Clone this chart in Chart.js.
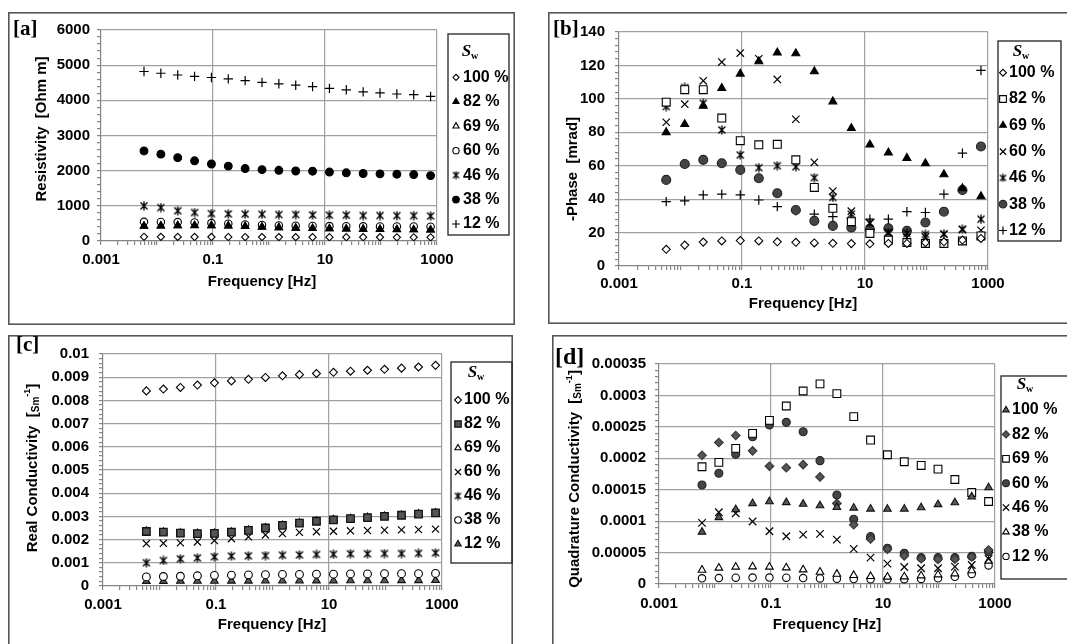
<!DOCTYPE html>
<html>
<head>
<meta charset="utf-8">
<title>Spectral induced polarization vs water saturation</title>
<script src="https://cdn.jsdelivr.net/npm/chart.js@4.4.1/dist/chart.umd.min.js"></script>
<style>
  html, body { margin: 0; padding: 0; background: #fff; width: 1067px; height: 644px; overflow: hidden; }
  canvas { position: absolute; }
</style>
</head>
<body>
<canvas id="panelA"></canvas>
<canvas id="panelB"></canvas>
<canvas id="panelC"></canvas>
<canvas id="panelD"></canvas>
<script>
// ---- measurement frequencies [Hz] and saturation levels ----
const freq = [0.005859375, 0.01171875, 0.0234375, 0.046875, 0.09375, 0.1875, 0.375, 0.75,
              1.5, 3, 6, 12, 24, 48, 96, 192, 384, 768];
const satLabels = ['100 %', '82 %', '69 %', '60 %', '46 %', '38 %', '12 %'];

// ---- axis tick labels ----
const freqTicks  = [0.001, 0.1, 10, 1000];
const resTicks   = [0, 1000, 2000, 3000, 4000, 5000, 6000];
const phaseTicks = [0, 20, 40, 60, 80, 100, 120, 140];
const realTicks  = [0, 0.001, 0.002, 0.003, 0.004, 0.005, 0.006, 0.007, 0.008, 0.009, 0.01];
const quadTicks  = [0, 0.00005, 0.0001, 0.00015, 0.0002, 0.00025, 0.0003, 0.00035];

// ---- [a] resistivity [Ohm m] ----
const res100 = [119, 118, 117, 116, 114, 113, 112, 111, 111, 110, 109, 109, 108, 108, 107, 106, 106, 105];
const res82  = [426, 431, 439, 442, 441, 431, 417, 400, 383, 369, 358, 351, 345, 339, 333, 328, 323, 317];
const res69  = [422, 429, 437, 441, 439, 429, 415, 398, 382, 368, 357, 350, 344, 338, 332, 327, 322, 316];
const res60  = [546, 543, 538, 526, 510, 490, 472, 455, 442, 433, 427, 424, 420, 418, 415, 413, 412, 408];
const res46  = [1000, 950, 860, 810, 780, 770, 765, 760, 750, 750, 740, 735, 735, 725, 725, 720, 720, 710];
const res38  = [2560, 2470, 2370, 2280, 2190, 2130, 2060, 2030, 2010, 1990, 1985, 1960, 1940, 1920, 1910, 1900, 1890, 1860];
const res12  = [4820, 4770, 4720, 4680, 4650, 4610, 4560, 4510, 4470, 4430, 4390, 4340, 4300, 4240, 4210, 4180, 4160, 4110];

// ---- [b] -phase [mrad] ----
const ph100 = [10, 12.5, 14.3, 15, 15.2, 15, 14.5, 14.2, 13.8, 13.6, 13.4, 13.3, 13.5, 13.5, 14, 14.5, 15.5, 16.5];
const ph82  = [98, 105.5, 105.5, 88.5, 75, 72.5, 72.8, 63.5, 47, 34.5, 26.5, 19.5, 15.5, 14, 13.5, 13.5, 15, 18];
const ph69  = [80, 84.8, 95.8, 106.4, 115, 122.4, 127.6, 127.2, 116.4, 98.4, 82.4, 72.6, 67.8, 64.6, 61.4, 54.8, 46.4, 41.6];
const ph60  = [86, 96.8, 110.8, 122, 127.4, 124, 111.6, 87.8, 62, 44.8, 32.8, 25.6, 20, 17, 17.4, 19, 21.8, 21.4];
const ph46  = [95.4, 106.8, 97.4, 81.4, 66.4, 58.8, 60, 59.4, 52.8, 41, 31, 25.8, 20, 19.5, 18.9, 19.2, 22, 28];
const ph38  = [51.5, 61, 63.5, 61.5, 57.5, 52.5, 43.5, 33.5, 27, 24, 23, 22, 22.5, 21, 26, 32.5, 45.5, 71.5];
const ph12  = [38.5, 39, 42.5, 43, 42.5, 39.5, 35.5, 33, 31, 29.5, 28.5, 28, 28, 32.5, 32, 43, 67.5, 117];

// ---- [c] real conductivity [S/m] ----
const re100 = [0.00841, 0.00849, 0.00856, 0.00866, 0.00876, 0.00884, 0.00891, 0.00899, 0.00906, 0.00911, 0.00916, 0.00921, 0.00926, 0.0093, 0.00934, 0.00939, 0.00944, 0.00951];
const re82  = [0.00235, 0.00232, 0.00228, 0.00226, 0.00227, 0.00232, 0.0024, 0.0025, 0.00261, 0.00271, 0.00279, 0.00285, 0.0029, 0.00295, 0.003, 0.00305, 0.0031, 0.00315];
const re69  = [0.00237, 0.00233, 0.00229, 0.00227, 0.00228, 0.00233, 0.00241, 0.00251, 0.00262, 0.00272, 0.0028, 0.00286, 0.00291, 0.00296, 0.00301, 0.00306, 0.00311, 0.00316];
const re60  = [0.00183, 0.00184, 0.00186, 0.0019, 0.00196, 0.00204, 0.00212, 0.0022, 0.00226, 0.00231, 0.00234, 0.00236, 0.00238, 0.00239, 0.00241, 0.00242, 0.00243, 0.00245];
const re46  = [0.001, 0.0011, 0.00117, 0.00121, 0.00126, 0.00129, 0.0013, 0.00131, 0.00133, 0.00134, 0.00136, 0.00137, 0.00139, 0.00139, 0.0014, 0.0014, 0.00141, 0.00143];
const re38  = [0.00039, 0.00041, 0.00042, 0.00044, 0.00046, 0.00047, 0.00048, 0.00049, 0.0005, 0.0005, 0.00051, 0.00051, 0.00052, 0.00052, 0.00053, 0.00053, 0.00053, 0.00054];
const re12  = [0.000207, 0.00021, 0.000212, 0.000214, 0.000215, 0.000217, 0.000219, 0.000222, 0.000224, 0.000226, 0.000228, 0.00023, 0.000233, 0.000236, 0.000237, 0.000239, 0.00024, 0.000243];

// ---- [d] quadrature conductivity [S/m] ----
const q100 = [0.0000828, 0.0001059, 0.0001186, 0.0001282, 0.0001311, 0.0001298, 0.0001272, 0.0001248, 0.0001221, 0.0001211, 0.0001195, 0.0001192, 0.0001195, 0.0001216, 0.0001266, 0.0001295, 0.0001388, 0.0001534];
const q82  = [0.0002048, 0.0002251, 0.0002362, 0.0002118, 0.0001874, 0.000185, 0.0001898, 0.0001704, 0.0001282, 0.0000942, 0.0000716, 0.0000555, 0.0000448, 0.0000401, 0.000039, 0.0000395, 0.000043, 0.0000541];
const q69  = [0.0001865, 0.0001934, 0.0002157, 0.0002396, 0.0002604, 0.0002832, 0.0003071, 0.0003183, 0.0003029, 0.0002662, 0.000229, 0.0002056, 0.0001945, 0.0001886, 0.0001828, 0.0001663, 0.0001456, 0.0001312];
const q60  = [0.0001575, 0.0001761, 0.0002063, 0.0002343, 0.0002529, 0.0002572, 0.0002423, 0.0001962, 0.0001416, 0.0001029, 0.0000753, 0.0000568, 0.0000488, 0.0000419, 0.0000419, 0.0000419, 0.000044, 0.0000514];
const q46  = [0.0000972, 0.0001142, 0.0001126, 0.0000994, 0.0000839, 0.000076, 0.0000786, 0.0000797, 0.0000707, 0.0000558, 0.000042, 0.0000324, 0.0000271, 0.000025, 0.000025, 0.0000276, 0.0000303, 0.0000399];
const q38  = [0.0000223, 0.0000255, 0.0000271, 0.0000276, 0.0000271, 0.000026, 0.0000228, 0.0000191, 0.0000159, 0.0000138, 0.0000122, 0.0000112, 0.0000117, 0.0000133, 0.0000149, 0.0000165, 0.0000213, 0.0000367];
const q12  = [0.000009, 0.0000095, 0.00001, 0.0000102, 0.0000102, 0.00001, 0.0000095, 0.0000088, 0.0000082, 0.0000078, 0.0000075, 0.0000074, 0.0000076, 0.000008, 0.000009, 0.0000115, 0.000016, 0.0000295];

// ---------------------------------------------------------------------
const SANS  = '"Liberation Sans", Arial, Helvetica, sans-serif';
const SERIF = '"Liberation Serif", "Times New Roman", serif';
Chart.defaults.font.family = SANS;
Chart.defaults.color = '#000';

const GRID = '#a0a0a0';
const AXIS = '#858585';

// six-armed asterisk marker (x plus vertical bar)
function makeAsterisk(s, lw) {
  const c = document.createElement('canvas');
  c.width = s; c.height = s;
  const g = c.getContext('2d');
  g.strokeStyle = '#000';
  g.lineWidth = lw;
  g.beginPath();
  g.moveTo(1.5, 1.5); g.lineTo(s - 1.5, s - 1.5);
  g.moveTo(s - 1.5, 1.5); g.lineTo(1.5, s - 1.5);
  g.moveTo(s / 2, 0.5); g.lineTo(s / 2, s - 0.5);
  g.stroke();
  return c;
}
const ASTERISK = makeAsterisk(10, 1.4);
const ASTERISK_KEY = makeAsterisk(9, 1.3);

// marker presets
function mk(style, r, fill, stroke, bw, keyStyle) {
  return { style, r, fill, stroke, bw: bw === undefined ? 1.1 : bw, keyStyle: keyStyle || style };
}
const DIAMOND_OPEN = (r) => mk('rectRot', r, '#fff', '#000');
const DIAMOND_GRAY = (r) => mk('rectRot', r, '#555', '#333');
const TRI_BLACK    = (r) => mk('triangle', r, '#000', '#000');
const TRI_OPEN     = (r) => mk('triangle', r, '#fff', '#000');
const TRI_GRAY     = (r) => mk('triangle', r, '#595959', '#111');
const CIRC_OPEN    = (r) => mk('circle', r, '#fff', '#000');
const CIRC_BLACK   = (r) => mk('circle', r, '#000', '#000');
const CIRC_GRAY    = (r) => mk('circle', r, '#454545', '#222');
const SQ_OPEN      = (r) => mk('rect', r, '#fff', '#000');
const SQ_GRAY      = (r) => mk('rect', r, '#555', '#111', 1.3);
const PLUS         = (r) => mk('cross', r, '#000', '#000', 1.2);
const XMARK        = (r) => mk('crossRot', r, '#000', '#000', 1.2);
const STAR         = () => mk(ASTERISK, 5, '#000', '#000', 1.1, ASTERISK_KEY);

function dataset(label, values, m) {
  return {
    label,
    data: freq.map((f, i) => ({ x: f, y: values[i] })),
    pointStyle: m.style,
    pointRadius: m.r,
    pointHoverRadius: m.r,
    pointBackgroundColor: m.fill,
    pointBorderColor: m.stroke,
    pointBorderWidth: m.bw,
    showLine: false,
    marker: m
  };
}

// y ticks: labelled majors with unlabelled minors in between
function withMinor(majors, n) {
  const out = [];
  for (let i = 0; i < majors.length; i++) {
    out.push({ value: majors[i], isMain: true });
    if (i < majors.length - 1) {
      for (let j = 1; j < n; j++) out.push({ value: majors[i] + (majors[i + 1] - majors[i]) * j / n, isMain: false });
    }
  }
  return out;
}
// log x ticks: every 1..9 x 10^k, labels only on the listed decades
function logTicks(labelled) {
  const out = [];
  const lo = Math.round(Math.log10(labelled[0]));
  const hi = Math.round(Math.log10(labelled[labelled.length - 1]));
  for (let k = lo; k < hi; k++) {
    for (let m = 1; m <= 9; m++) {
      const v = m * Math.pow(10, k);
      out.push({ value: v, isMain: labelled.some(t => Math.abs(v / t - 1) < 1e-9) });
    }
  }
  out.push({ value: Math.pow(10, hi), isMain: true });
  return out;
}
function fmt(v) { return String(parseFloat(v.toPrecision(6))); }

// draws a line of mixed-size text centred at (cx, cy), optionally rotated
function drawRich(ctx, pieces, cx, cy, angle) {
  ctx.save();
  ctx.translate(cx, cy);
  ctx.rotate(angle || 0);
  ctx.textBaseline = 'middle';
  ctx.textAlign = 'left';
  let total = 0;
  pieces.forEach(p => { ctx.font = p.font; p.w = ctx.measureText(p.text).width; total += p.w; });
  let x = -total / 2;
  pieces.forEach(p => { ctx.font = p.font; ctx.fillStyle = '#000'; ctx.fillText(p.text, x, p.dy || 0); x += p.w; });
  ctx.restore();
}

function drawMarker(ctx, m, x, y, r) {
  ctx.save();
  ctx.fillStyle = m.fill;
  ctx.strokeStyle = m.stroke;
  ctx.lineWidth = m.bw;
  if (Chart.helpers && Chart.helpers.drawPoint) {
    Chart.helpers.drawPoint(ctx, { pointStyle: m.keyStyle, radius: r, rotation: 0, borderWidth: m.bw }, x, y);
  } else if (typeof m.keyStyle === 'object') {
    ctx.drawImage(m.keyStyle, x - m.keyStyle.width / 2, y - m.keyStyle.height / 2);
  } else {
    ctx.beginPath(); ctx.arc(x, y, r, 0, Math.PI * 2); ctx.fill(); ctx.stroke();
  }
  ctx.restore();
}

// panel frame, letter, axis titles and the saturation key
const panelDecor = {
  id: 'panelDecor',
  afterDraw(chart, args, o) {
    const ctx = chart.ctx;
    const W = chart.width, H = chart.height;
    ctx.save();
    // frame
    ctx.strokeStyle = '#555';
    ctx.lineWidth = 1.6;
    ctx.strokeRect(0.8, 0.8, W - 1.6, H - 1.6);
    // panel letter
    ctx.fillStyle = '#000';
    ctx.font = 'bold ' + o.letterSize + 'px ' + SERIF;
    ctx.textBaseline = 'middle';
    ctx.textAlign = 'left';
    ctx.fillText(o.letter, o.letterPos[0], o.letterPos[1]);
    // axis titles
    drawRich(ctx, [{ text: o.xTitle, font: 'bold 15px ' + SANS }], o.xTitlePos[0], o.xTitlePos[1], 0);
    drawRich(ctx, o.yTitle, o.yTitlePos[0], o.yTitlePos[1], -Math.PI / 2);
    // key box
    const k = o.key;
    ctx.strokeStyle = '#222';
    ctx.lineWidth = 1.3;
    ctx.strokeRect(k.box[0], k.box[1], k.box[2] - k.box[0], k.box[3] - k.box[1]);
    drawRich(ctx, [
      { text: 'S', font: 'italic bold 17px ' + SERIF },
      { text: 'w', font: 'bold 10px ' + SERIF, dy: 4 }
    ], k.title[0], k.title[1], 0);
    chart.data.datasets.forEach((ds, i) => {
      const y = k.y0 + i * k.dy;
      drawMarker(ctx, ds.marker, k.mx, y, ds.marker.r * 0.85);
      ctx.fillStyle = '#000';
      ctx.font = 'bold 16px ' + SANS;
      ctx.textBaseline = 'middle';
      ctx.textAlign = 'left';
      ctx.fillText(ds.label, k.tx, y);
    });
    ctx.restore();
  }
};

function makePanel(id, p) {
  const cv = document.getElementById(id);
  cv.width = p.box.w; cv.height = p.box.h;
  cv.style.left = p.box.x + 'px'; cv.style.top = p.box.y + 'px';
  cv.style.width = p.box.w + 'px'; cv.style.height = p.box.h + 'px';
  const yW = p.yWidth, xH = 40;
  const yTickList = withMinor(p.yTicks, 5);
  const xTickList = logTicks(freqTicks);
  return new Chart(cv, {
    type: 'scatter',
    data: { datasets: p.datasets },
    options: {
      responsive: false,
      animation: false,
      devicePixelRatio: 1,
      events: [],
      layout: {
        padding: {
          left: p.plot.l - yW,
          right: p.box.w - p.plot.r,
          top: p.plot.t,
          bottom: p.box.h - p.plot.b - xH
        }
      },
      plugins: {
        legend: { display: false },
        tooltip: { enabled: false },
        panelDecor: p.decor
      },
      scales: {
        x: {
          type: 'logarithmic',
          min: freqTicks[0],
          max: freqTicks[freqTicks.length - 1],
          afterBuildTicks: (s) => { s.ticks = xTickList.map(t => ({ ...t })); },
          afterFit: (s) => { s.height = xH; },
          border: { display: true, color: AXIS, width: 1.2 },
          grid: {
            drawTicks: true,
            tickLength: 4,
            color: (c) => (c.tick && c.tick.isMain && c.tick.value > freqTicks[0]) ? GRID : 'rgba(0,0,0,0)',
            tickColor: AXIS,
            lineWidth: 1.2
          },
          ticks: {
            autoSkip: false,
            maxRotation: 0,
            minRotation: 0,
            padding: p.xPad,
            font: { size: 15, weight: 'bold' },
            color: '#000',
            callback: (v, i, ts) => ts[i].isMain ? fmt(v) : ''
          }
        },
        y: {
          type: 'linear',
          min: p.yTicks[0],
          max: p.yTicks[p.yTicks.length - 1],
          afterBuildTicks: (s) => { s.ticks = yTickList.map(t => ({ ...t })); },
          afterFit: (s) => { s.width = yW; },
          border: { display: true, color: AXIS, width: 1.2 },
          grid: {
            drawTicks: true,
            tickLength: 4,
            color: (c) => (c.tick && c.tick.isMain && c.tick.value > p.yTicks[0]) ? GRID : 'rgba(0,0,0,0)',
            tickColor: AXIS,
            lineWidth: 1.2
          },
          ticks: {
            autoSkip: false,
            padding: p.yPad,
            font: { size: 15, weight: 'bold' },
            color: '#000',
            callback: (v, i, ts) => ts[i].isMain ? fmt(v) : ''
          }
        }
      }
    },
    plugins: [panelDecor]
  });
}

const condTitle = (name) => [
  { text: name + '  [', font: 'bold 15px ' + SANS },
  { text: 'Sm', font: 'bold 10px ' + SANS, dy: 3 },
  { text: '-1', font: 'bold 9px ' + SANS, dy: -5 },
  { text: ']', font: 'bold 15px ' + SANS }
];

// [a] resistivity
makePanel('panelA', {
  box: { x: 8, y: 12, w: 507, h: 313 },
  plot: { l: 93, r: 429, t: 18, b: 229 },
  yWidth: 60, yPad: 7, xPad: 6,
  yTicks: resTicks,
  datasets: [
    dataset(satLabels[0], res100, DIAMOND_OPEN(3.6)),
    dataset(satLabels[1], res82, TRI_BLACK(4.2)),
    dataset(satLabels[2], res69, TRI_OPEN(4.2)),
    dataset(satLabels[3], res60, CIRC_OPEN(3.7)),
    dataset(satLabels[4], res46, STAR()),
    dataset(satLabels[5], res38, CIRC_BLACK(3.9)),
    dataset(satLabels[6], res12, PLUS(4.7))
  ],
  decor: {
    letter: '[a]', letterSize: 21, letterPos: [5, 18],
    xTitle: 'Frequency [Hz]', xTitlePos: [254, 270],
    yTitle: [{ text: 'Resistivity  [Ohm m]', font: 'bold 15px ' + SANS }], yTitlePos: [34, 117],
    key: { box: [440, 22, 501, 223], title: [462, 40], mx: 448, tx: 455, y0: 65.3, dy: 24.45 }
  }
});

// [b] -phase
makePanel('panelB', {
  box: { x: 548, y: 12, w: 530, h: 312 },
  plot: { l: 71, r: 440, t: 20, b: 254 },
  yWidth: 45, yPad: 10, xPad: 5,
  yTicks: phaseTicks,
  datasets: [
    dataset(satLabels[0], ph100, DIAMOND_OPEN(4)),
    dataset(satLabels[1], ph82, SQ_OPEN(5.6)),
    dataset(satLabels[2], ph69, TRI_BLACK(4.6)),
    dataset(satLabels[3], ph60, XMARK(5.2)),
    dataset(satLabels[4], ph46, STAR()),
    dataset(satLabels[5], ph38, CIRC_GRAY(4.5)),
    dataset(satLabels[6], ph12, PLUS(4.7))
  ],
  decor: {
    letter: '[b]', letterSize: 21, letterPos: [5, 18],
    xTitle: 'Frequency [Hz]', xTitlePos: [255, 292],
    yTitle: [{ text: '-Phase  [mrad]', font: 'bold 15px ' + SANS }], yTitlePos: [25, 157],
    key: { box: [450, 29, 513, 229], title: [473, 40], mx: 455, tx: 461, y0: 60.7, dy: 26.3 }
  }
});

// [c] real conductivity
makePanel('panelC', {
  box: { x: 8, y: 335, w: 505, h: 320 },
  plot: { l: 95, r: 434, t: 17, b: 251 },
  yWidth: 62, yPad: 10, xPad: 6,
  yTicks: realTicks,
  datasets: [
    dataset(satLabels[0], re100, DIAMOND_OPEN(4)),
    dataset(satLabels[1], re82, SQ_GRAY(5.3)),
    dataset(satLabels[2], re69, TRI_OPEN(4.2)),
    dataset(satLabels[3], re60, XMARK(5)),
    dataset(satLabels[4], re46, STAR()),
    dataset(satLabels[5], re38, CIRC_OPEN(3.9)),
    dataset(satLabels[6], re12, TRI_GRAY(4.4))
  ],
  decor: {
    letter: '[c]', letterSize: 21, letterPos: [8, 11],
    xTitle: 'Frequency [Hz]', xTitlePos: [264, 290],
    yTitle: condTitle('Real Conductivity'), yTitlePos: [25, 133],
    key: { box: [443, 27, 504, 228], title: [468, 38], mx: 450, tx: 456, y0: 65, dy: 24 }
  }
});

// [d] quadrature conductivity
makePanel('panelD', {
  box: { x: 552, y: 335, w: 530, h: 320 },
  plot: { l: 107, r: 443, t: 29, b: 249 },
  yWidth: 72, yPad: 9, xPad: 7,
  yTicks: quadTicks,
  datasets: [
    dataset(satLabels[0], q100, TRI_GRAY(4.4)),
    dataset(satLabels[1], q82, DIAMOND_GRAY(4.3)),
    dataset(satLabels[2], q69, SQ_OPEN(5.5)),
    dataset(satLabels[3], q60, CIRC_GRAY(4)),
    dataset(satLabels[4], q46, XMARK(5.3)),
    dataset(satLabels[5], q38, TRI_OPEN(4.4)),
    dataset(satLabels[6], q12, CIRC_OPEN(3.7))
  ],
  decor: {
    letter: '[d]', letterSize: 24, letterPos: [3, 23],
    xTitle: 'Frequency [Hz]', xTitlePos: [275, 290],
    yTitle: condTitle('Quadrature Conductivity'), yTitlePos: [23, 144],
    key: { box: [449, 41, 528, 244], title: [473, 50], mx: 454, tx: 460, y0: 75, dy: 24.4 }
  }
});
</script>
</body>
</html>
